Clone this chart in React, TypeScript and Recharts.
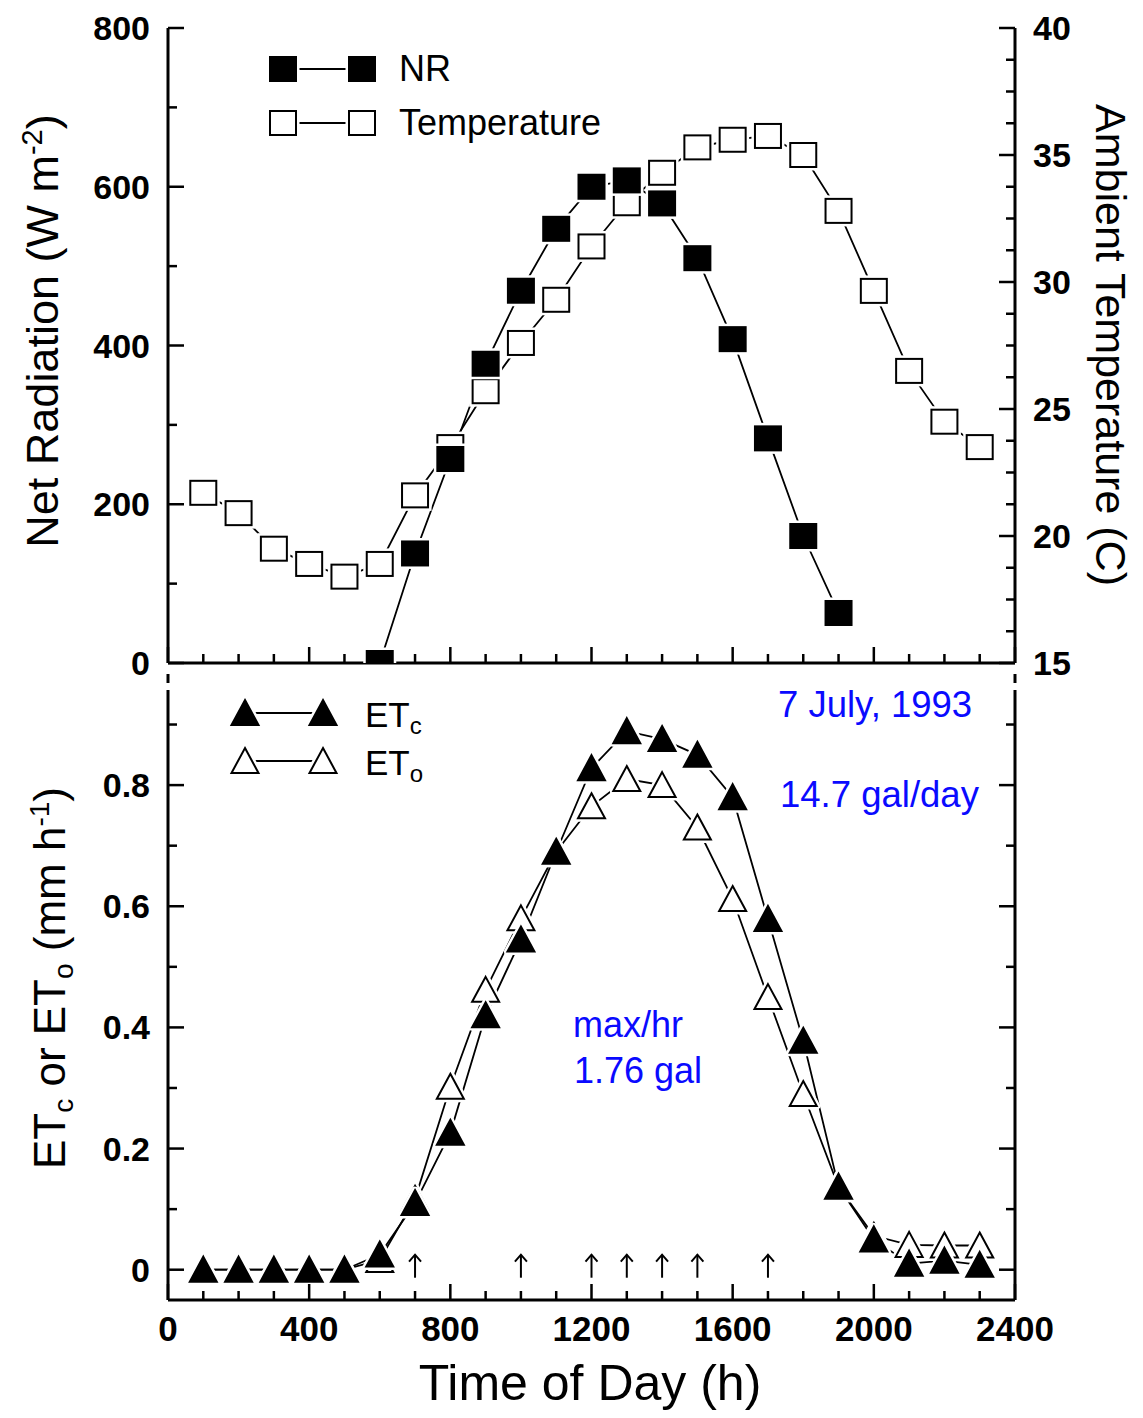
import React from "react";
import { ComposedChart, Line, Scatter, XAxis, YAxis, Customized } from "recharts";

// ---- data (7 July 1993) ----
const hours = [100, 200, 300, 400, 500, 600, 700, 800, 900, 1000, 1100, 1200, 1300, 1400, 1500, 1600, 1700, 1800, 1900, 2000, 2100, 2200, 2300];
const netRadiation = [null, null, null, null, null, 0, 138, 257, 377, 469, 547, 600, 608, 579, 510, 408, 283, 160, 63, null, null, null, null];
const temperature = [21.7, 20.9, 19.5, 18.9, 18.4, 18.9, 21.6, 23.5, 25.7, 27.6, 29.3, 31.4, 33.1, 34.3, 35.3, 35.6, 35.75, 35.0, 32.8, 29.65, 26.5, 24.5, 23.5];
const etCrop = [0, 0, 0, 0, 0, 0.025, 0.11, 0.226, 0.42, 0.545, 0.69, 0.828, 0.889, 0.876, 0.85, 0.78, 0.579, 0.378, 0.137, 0.05, 0.01, 0.015, 0.008];
const etRef = [0, 0, 0, 0, 0, 0.016, 0.117, 0.302, 0.462, 0.58, 0.69, 0.765, 0.81, 0.8, 0.73, 0.612, 0.45, 0.29, 0.137, 0.056, 0.041, 0.04, 0.04];
const arrowHours = [700, 1000, 1200, 1300, 1400, 1500, 1700];

const xTicks = Array.from({ length: 25 }, (_, i) => i * 100);
const nrTicks = Array.from({ length: 9 }, (_, i) => i * 100);
const tempTicks = Array.from({ length: 21 }, (_, i) => 15 + i * 1.25);
const etTicks = Array.from({ length: 10 }, (_, i) => i / 10);

const topRows = hours.map((h, i) => ({ hour: h, nr: netRadiation[i], temp: temperature[i] }));
const botRows = hours.map((h, i) => ({ hour: h, etc: etCrop[i], eto: etRef[i] }));
const arrowRows = arrowHours.map((h) => ({ hour: h, mark: 0 }));

// ---- layout ----
const W = 1143;
const H = 1418;
const PL = 168;
const PR = 1015;
const TOP_T = 28;
const TOP_B = 663;
const BOT_T = 690;
const BOT_B = 1300;
const FONT = "'Liberation Sans', Arial, Helvetica, sans-serif";
const BLUE = "#0a0aff";
const MAJ = 16;
const MIN = 9;

const drawSquare = (cx: number, cy: number, filled: boolean, key: string) => (
  <g key={key}>
    <rect x={cx - 13} y={cy - 12} width={26} height={24} fill="#fff" stroke="#fff" strokeWidth={7} />
    <rect x={cx - 13} y={cy - 12} width={26} height={24} fill={filled ? "#000" : "#fff"} stroke="#000" strokeWidth={2} />
  </g>
);

const drawTriangle = (cx: number, cy: number, filled: boolean, key: string) => {
  const pts = `${cx},${cy - 13} ${cx + 13.5},${cy + 12} ${cx - 13.5},${cy + 12}`;
  return (
    <g key={key}>
      <polygon points={pts} fill="#fff" stroke="#fff" strokeWidth={7} strokeLinejoin="round" />
      <polygon points={pts} fill={filled ? "#000" : "#fff"} stroke="#000" strokeWidth={2} strokeLinejoin="miter" />
    </g>
  );
};

const dotOf = (kind: "sq" | "tri", filled: boolean) => (p: any) => {
  const key = `${kind}${filled ? "f" : "o"}${p.index}`;
  if (p.cx == null || p.cy == null || p.value == null || Number.isNaN(p.cy)) return <g key={key} />;
  return kind === "sq" ? drawSquare(p.cx, p.cy, filled, key) : drawTriangle(p.cx, p.cy, filled, key);
};

const arrowShape = (p: any) => {
  const { cx, cy } = p;
  return (
    <g>
      <line x1={cx} x2={cx} y1={cy + 8} y2={cy - 15} stroke="#000" strokeWidth={2} />
      <polyline points={`${cx - 6},${cy - 8} ${cx},${cy - 15} ${cx + 6},${cy - 8}`} fill="none" stroke="#000" strokeWidth={2} />
    </g>
  );
};

// inward ticks drawn by hand, labels outside
const yTick = (side: "left" | "right", isMajor: (v: number) => boolean, fmt: ((v: number) => string) | null) => (p: any) => {
  const v = p.payload.value;
  const major = isMajor(v);
  const len = major ? MAJ : MIN;
  const ax = side === "left" ? PL : PR;
  const x2 = side === "left" ? ax + len : ax - len;
  return (
    <g key={`${side}${p.index}`}>
      <line x1={ax} x2={x2} y1={p.y} y2={p.y} stroke="#000" strokeWidth={2.5} />
      {fmt && major ? (
        <text
          x={side === "left" ? ax - 18 : ax + 18}
          y={p.y + 12}
          textAnchor={side === "left" ? "end" : "start"}
          fontFamily={FONT}
          fontWeight="bold"
          fontSize={34}
          fill="#000"
        >
          {fmt(v)}
        </text>
      ) : null}
    </g>
  );
};

const xTick = (axisY: number, withLabels: boolean) => (p: any) => {
  const v = p.payload.value;
  const major = v % 400 === 0;
  return (
    <g key={`x${axisY}${p.index}`}>
      <line x1={p.x} x2={p.x} y1={axisY} y2={axisY - (major ? MAJ : MIN)} stroke="#000" strokeWidth={2.5} />
      {withLabels && major ? (
        <text x={p.x} y={axisY + 41} textAnchor="middle" fontFamily={FONT} fontWeight="bold" fontSize={35} fill="#000">
          {String(v)}
        </text>
      ) : null}
    </g>
  );
};

const axisLine = { stroke: "#000", strokeWidth: 3 };

const TopOverlay = () => (
  <g fontFamily={FONT} fill="#000">
    <line x1={283} x2={362} y1={69} y2={69} stroke="#000" strokeWidth={2} />
    {drawSquare(283, 69, true, "l1")}
    {drawSquare(362, 69, true, "l2")}
    <text x={399} y={81} fontSize={36}>NR</text>
    <line x1={283} x2={362} y1={123} y2={123} stroke="#000" strokeWidth={2} />
    {drawSquare(283, 123, false, "l3")}
    {drawSquare(362, 123, false, "l4")}
    <text x={399} y={135} fontSize={36}>Temperature</text>
    <text x={58} y={331} fontSize={45} textAnchor="middle" transform="rotate(-90 58 331)">
      Net Radiation (W m<tspan dy={-16} fontSize={29}>-2</tspan><tspan dy={16}>)</tspan>
    </text>
    <text x={1096} y={345} fontSize={43} textAnchor="middle" transform="rotate(90 1096 345)">
      Ambient Temperature (C)
    </text>
  </g>
);

const BottomOverlay = () => (
  <g fontFamily={FONT} fill="#000">
    <line x1={PL} x2={PL} y1={674} y2={683} stroke="#000" strokeWidth={3} />
    <line x1={PR} x2={PR} y1={674} y2={683} stroke="#000" strokeWidth={3} />
    <line x1={245} x2={323} y1={713} y2={713} stroke="#000" strokeWidth={2} />
    {drawTriangle(245, 713, true, "t1")}
    {drawTriangle(323, 713, true, "t2")}
    <text x={365} y={727} fontSize={35}>
      ET<tspan dy={7} fontSize={24}>c</tspan>
    </text>
    <line x1={245} x2={323} y1={761} y2={761} stroke="#000" strokeWidth={2} />
    {drawTriangle(245, 761, false, "t3")}
    {drawTriangle(323, 761, false, "t4")}
    <text x={365} y={775} fontSize={35}>
      ET<tspan dy={7} fontSize={24}>o</tspan>
    </text>
    <text x={778} y={717} fontSize={36.5} fill={BLUE}>7 July, 1993</text>
    <text x={780} y={807} fontSize={36.5} fill={BLUE}>14.7 gal/day</text>
    <text x={573} y={1037} fontSize={36} fill={BLUE}>max/hr</text>
    <text x={574} y={1083} fontSize={36} fill={BLUE}>1.76 gal</text>
    <text x={65} y={978} fontSize={44} textAnchor="middle" transform="rotate(-90 65 978)">
      ET<tspan dy={8} fontSize={28}>c</tspan>
      <tspan dy={-8}> or ET</tspan>
      <tspan dy={8} fontSize={28}>o</tspan>
      <tspan dy={-8}> (mm h</tspan>
      <tspan dy={-16} fontSize={28}>-1</tspan>
      <tspan dy={16}>)</tspan>
    </text>
    <text x={590} y={1400} fontSize={50} textAnchor="middle">
      Time of Day (h)
    </text>
  </g>
);

export default function App() {
  return (
    <div style={{ position: "absolute", left: 0, top: 0, width: W, height: H, background: "#fff" }}>
      <div style={{ position: "absolute", left: 0, top: 0 }}>
        <ComposedChart width={W} height={H} data={topRows} margin={{ top: TOP_T, right: W - PR - 80, bottom: H - TOP_B - 30, left: PL - 80 }}>
          <XAxis xAxisId="b" dataKey="hour" type="number" domain={[0, 2400]} ticks={xTicks} interval={0} height={30}
            tickLine={false} axisLine={axisLine} tick={xTick(TOP_B, false)} allowDataOverflow />
          <XAxis xAxisId="t" orientation="top" dataKey="hour" type="number" domain={[0, 2400]} height={0}
            tick={false} tickLine={false} axisLine={axisLine} />
          <YAxis yAxisId="nr" domain={[0, 800]} ticks={nrTicks} interval={0} width={80} tickLine={false} axisLine={axisLine}
            tick={yTick("left", (v) => v % 200 === 0, (v) => String(v))} allowDataOverflow />
          <YAxis yAxisId="temp" orientation="right" domain={[15, 40]} ticks={tempTicks} interval={0} width={80} tickLine={false}
            axisLine={axisLine} tick={yTick("right", (v) => v % 5 === 0, (v) => String(v))} allowDataOverflow />
          <Line xAxisId="b" yAxisId="temp" dataKey="temp" stroke="#000" strokeWidth={1.8} dot={dotOf("sq", false)}
            activeDot={false} isAnimationActive={false} />
          <Line xAxisId="b" yAxisId="nr" dataKey="nr" stroke="#000" strokeWidth={1.8} dot={dotOf("sq", true)}
            activeDot={false} isAnimationActive={false} />
          <Customized component={TopOverlay} />
        </ComposedChart>
      </div>
      <div style={{ position: "absolute", left: 0, top: 0 }}>
        <ComposedChart width={W} height={H} data={botRows} margin={{ top: BOT_T, right: W - PR - 80, bottom: H - BOT_B - 60, left: PL - 80 }}>
          <XAxis dataKey="hour" type="number" domain={[0, 2400]} ticks={xTicks} interval={0} height={60}
            tickLine={false} axisLine={axisLine} tick={xTick(BOT_B, true)} allowDataOverflow />
          <YAxis yAxisId="l" domain={[-0.05, 0.957]} ticks={etTicks} interval={0} width={80} tickLine={false} axisLine={axisLine}
            tick={yTick("left", (v) => Math.round(v * 10) % 2 === 0, (v) => (v === 0 ? "0" : v.toFixed(1)))} allowDataOverflow />
          <YAxis yAxisId="r" orientation="right" domain={[-0.05, 0.957]} ticks={etTicks} interval={0} width={80} tickLine={false}
            axisLine={axisLine} tick={yTick("right", (v) => Math.round(v * 10) % 2 === 0, null)} allowDataOverflow />
          <Line yAxisId="l" dataKey="eto" stroke="#000" strokeWidth={1.8} dot={dotOf("tri", false)}
            activeDot={false} isAnimationActive={false} />
          <Line yAxisId="l" dataKey="etc" stroke="#000" strokeWidth={1.8} dot={dotOf("tri", true)}
            activeDot={false} isAnimationActive={false} />
          <Scatter yAxisId="l" data={arrowRows} dataKey="mark" shape={arrowShape} isAnimationActive={false} />
          <Customized component={BottomOverlay} />
        </ComposedChart>
      </div>
    </div>
  );
}
